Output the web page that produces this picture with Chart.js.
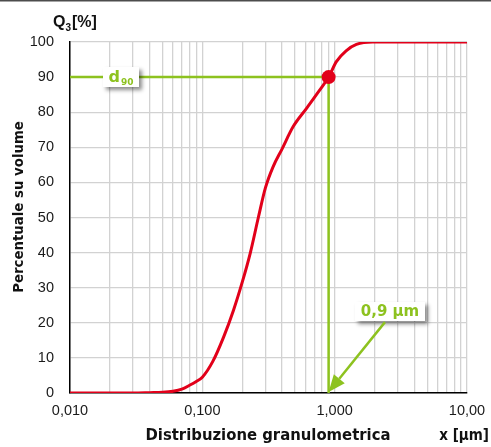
<!DOCTYPE html>
<html><head><meta charset="utf-8">
<script src="https://cdn.jsdelivr.net/npm/chart.js@4/dist/chart.umd.min.js"></script>
<style>html,body{margin:0;padding:0;background:#fff;} canvas{display:block;}</style>
</head><body>
<canvas id="c" width="491" height="447" style="width:491px;height:447px"></canvas>
<script>
// ---- data ----
const particleSizes = [0.01, 0.02, 0.03, 0.04, 0.05, 0.06, 0.07, 0.08, 0.09, 0.1, 0.12, 0.145, 0.172, 0.2, 0.23, 0.265, 0.3, 0.343, 0.4, 0.486, 0.613, 0.728, 0.9, 1.03, 1.22, 1.46, 1.94, 3, 10];
const cumulativeVolume = [0, 0, 0, 0.1, 0.2, 0.5, 1.1, 2.2, 3.3, 4.5, 9, 16, 23.6, 31.5, 39.8, 50, 58.5, 64.5, 69.5, 75.9, 81.1, 85, 90, 94.4, 97.5, 99.3, 100, 100, 100];
const d90Size = 0.9;
const d90Value = 90;
const d90Label = 'd';
const d90Sub = '90';
const d90Text = '0,9 µm';
const xMajorTicks = [0.01, 0.1, 1, 10];
const xTickLabels = ['0,010', '0,100', '1,000', '10,00'];
const yMin = 0, yMax = 100, yStep = 10;
const xTitle = 'Distribuzione granulometrica';
const xUnit = 'x [µm]';
const yTitle = 'Percentuale su volume';

// annotation anchors (data coordinates)
const d90BoxAt = {x: 0.0243, y: 90};
const valueBoxAt = {x: 2.62, y: 23.2};
const arrowFrom = {x: 2.40, y: 20.2};

// ---- styles ----
const FONT = '"Liberation Sans", Arial, sans-serif';
const DJ = '"DejaVu Sans", Verdana, sans-serif';
const GREEN = '#8dc21f';
const RED = '#e2001a';
const GRID = '#d2d2d2';

const gridValues = [];
for (let i = 0; i < xMajorTicks.length - 1; i++) {
  for (let m = 1; m <= 9; m++) gridValues.push(+(xMajorTicks[i] * m).toPrecision(3));
}
gridValues.push(xMajorTicks[xMajorTicks.length - 1]);

function shadowBox(ctx, cx, cy, w, h) {
  ctx.save();
  ctx.shadowColor = 'rgba(0,0,0,0.45)';
  ctx.shadowOffsetX = 3; ctx.shadowOffsetY = 3; ctx.shadowBlur = 4;
  ctx.fillStyle = '#fff';
  ctx.fillRect(Math.round(cx - w / 2), Math.round(cy - h / 2), w, h);
  ctx.restore();
}

// condensed text: horizontally compressed DejaVu Sans Bold
function condText(ctx, text, x, y, size, align, sx) {
  ctx.save();
  ctx.font = 'bold ' + size + 'px ' + DJ;
  ctx.translate(x, y);
  ctx.scale(sx, 1);
  ctx.textAlign = align;
  ctx.fillText(text, 0, 0);
  ctx.restore();
}

const annot = {
  id: 'annot',
  beforeDatasetsDraw(chart) {
    const {ctx, scales: {x, y}, chartArea} = chart;
    const px = x.getPixelForValue(d90Size), py = y.getPixelForValue(d90Value);
    ctx.save();
    ctx.strokeStyle = GREEN; ctx.lineWidth = 2.5;
    ctx.beginPath();
    ctx.moveTo(chartArea.left, py); ctx.lineTo(px, py);
    ctx.moveTo(px, py); ctx.lineTo(px, chartArea.bottom);
    ctx.stroke();
    ctx.restore();
  },
  afterDatasetsDraw(chart) {
    const {ctx, scales: {x, y}, chartArea} = chart;
    // d90 box
    let cx = x.getPixelForValue(d90BoxAt.x), cy = y.getPixelForValue(d90BoxAt.y);
    shadowBox(ctx, cx, cy, 36, 20);
    ctx.save();
    ctx.fillStyle = GREEN;
    ctx.textBaseline = 'alphabetic';
    ctx.font = 'bold 16px ' + DJ;
    const w1 = ctx.measureText(d90Label).width;
    ctx.font = 'bold 9px ' + DJ;
    const w2 = ctx.measureText(d90Sub).width;
    let sx = cx - (w1 + w2 + 1) / 2;
    ctx.font = 'bold 16px ' + DJ;
    ctx.fillText(d90Label, sx, cy + 5);
    ctx.font = 'bold 9px ' + DJ;
    ctx.fillText(d90Sub, sx + w1 + 1, cy + 8);
    ctx.restore();

    // value box
    cx = x.getPixelForValue(valueBoxAt.x); cy = y.getPixelForValue(valueBoxAt.y);
    shadowBox(ctx, cx, cy, 70, 19);
    ctx.save();
    ctx.fillStyle = GREEN;
    ctx.font = 'bold 15px ' + DJ;
    ctx.textAlign = 'center'; ctx.textBaseline = 'middle';
    ctx.fillText(d90Text, cx, cy + 1);
    ctx.restore();

    // arrow
    const ax = x.getPixelForValue(arrowFrom.x), ay = y.getPixelForValue(arrowFrom.y);
    const tx = x.getPixelForValue(d90Size), ty = chartArea.bottom - 1;
    const ang = Math.atan2(ty - ay, tx - ax);
    const hl = 17, hw = 7;
    const bx = tx - hl * Math.cos(ang), by = ty - hl * Math.sin(ang);
    ctx.save();
    ctx.strokeStyle = GREEN; ctx.fillStyle = GREEN; ctx.lineWidth = 2.5;
    ctx.beginPath(); ctx.moveTo(ax, ay); ctx.lineTo(bx, by); ctx.stroke();
    ctx.beginPath();
    ctx.moveTo(tx, ty);
    ctx.lineTo(bx + hw * Math.sin(ang), by - hw * Math.cos(ang));
    ctx.lineTo(bx - hw * Math.sin(ang), by + hw * Math.cos(ang));
    ctx.closePath(); ctx.fill();
    ctx.restore();
  },
  afterDraw(chart) {
    const {ctx} = chart;
    ctx.save();
    ctx.fillStyle = '#4d4d4d';
    ctx.fillRect(0, 0, chart.width, 1.5);
    ctx.fillStyle = '#111';
    ctx.textBaseline = 'alphabetic';
    // Q3[%]
    ctx.font = 'bold 16px ' + FONT;
    let qx = 53;
    ctx.fillText('Q', qx, 27); qx += ctx.measureText('Q').width;
    ctx.font = 'bold 10px ' + FONT;
    ctx.fillText('3', qx, 31); qx += ctx.measureText('3').width + 1;
    ctx.font = 'bold 16px ' + FONT;
    ctx.fillText('[%]', qx, 27);
    // x title
    condText(ctx, xTitle, 268, 440, 16.5, 'center', 0.9);
    condText(ctx, xUnit, 489, 440, 15, 'right', 0.9);
    // y title
    ctx.translate(23, 207);
    ctx.rotate(-Math.PI / 2);
    condText(ctx, yTitle, 0, 0, 14.8, 'center', 0.9);
    ctx.restore();
  }
};

new Chart(document.getElementById('c'), {
  type: 'line',
  data: {
    datasets: [
      {
        data: particleSizes.map((s, i) => ({x: s, y: cumulativeVolume[i]})),
        borderColor: RED, borderWidth: 3, pointRadius: 0,
        cubicInterpolationMode: 'monotone', fill: false, order: 2
      },
      {
        data: [{x: d90Size, y: d90Value}],
        pointRadius: 7, pointBackgroundColor: RED, pointBorderColor: RED,
        pointBorderWidth: 0, showLine: false, order: 1
      }
    ]
  },
  options: {
    responsive: false,
    animation: false,
    events: [],
    layout: {padding: {top: 42, right: 24, left: 0, bottom: 0}},
    plugins: {legend: {display: false}, tooltip: {enabled: false}},
    scales: {
      x: {
        type: 'logarithmic', min: xMajorTicks[0], max: xMajorTicks[xMajorTicks.length - 1],
        afterBuildTicks(s) { s.ticks = gridValues.map(v => ({value: v})); },
        afterFit(s) { s.height = 54; s.paddingLeft = 0; s.paddingRight = 0; },
        ticks: {
          autoSkip: false, maxRotation: 0, padding: 9,
          font: {family: FONT, size: 14.5}, color: '#1a1a1a',
          callback(v) {
            const i = xMajorTicks.findIndex(t => Math.abs(t - v) < 1e-9);
            return i >= 0 ? xTickLabels[i] : '';
          }
        },
        grid: {color: GRID, lineWidth: 1.3, drawTicks: false},
        border: {color: '#000', width: 1.5}
      },
      y: {
        min: yMin, max: yMax,
        afterFit(s) { s.width = 70; s.paddingTop = 0; s.paddingBottom = 0; },
        ticks: {stepSize: yStep, padding: 16, font: {family: FONT, size: 14.5}, color: '#1a1a1a'},
        grid: {color: GRID, lineWidth: 1.3, drawTicks: false},
        border: {color: '#000', width: 1.5}
      }
    }
  },
  plugins: [annot]
});
</script>
</body></html>
